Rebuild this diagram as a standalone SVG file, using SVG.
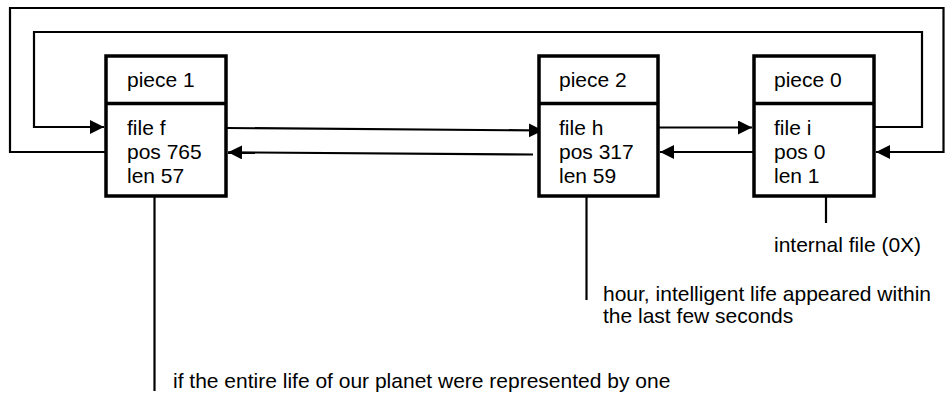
<svg xmlns="http://www.w3.org/2000/svg" width="948" height="403" viewBox="0 0 948 403">
  <style>
    .box { fill: #fff; stroke: #000; stroke-width: 3.5; }
    .div { stroke: #000; stroke-width: 3.5; }
    .t { font-family: "Liberation Sans", Arial, sans-serif; font-size: 21px; fill: #000; }
    .c { fill: none; stroke: #000; stroke-width: 2.2; }
    .a { fill: none; stroke: #000; stroke-width: 2.2; marker-end: url(#ah); }
  </style>
  <defs>
    <marker id="ah" markerUnits="userSpaceOnUse" markerWidth="15" markerHeight="15" refX="14" refY="7" orient="auto">
      <path d="M0,0 L14,7 L0,14 z" fill="#000"/>
    </marker>
  </defs>
  <rect width="948" height="403" fill="#fff"/>

  <g id="connectors">
    <!-- outer loop: piece1 -> piece0 -->
    <polyline class="a" points="106,152 10,152 10,8 943.5,8 943.5,152 876,152"/>
    <!-- inner loop: piece0 -> piece1 -->
    <polyline class="a" points="874,127 922,127 922,32 34,32 34,127 104,127"/>
    <!-- piece1 -> piece2 -->
    <line class="a" x1="227" y1="128" x2="543" y2="130.5"/>
    <!-- piece2 -> piece1 -->
    <line class="a" x1="533" y1="154.5" x2="228" y2="152.3"/>
    <!-- piece2 -> piece0 -->
    <line class="a" x1="659" y1="127.5" x2="752" y2="127.5"/>
    <!-- piece0 -> piece2 -->
    <line class="a" x1="754" y1="152" x2="660" y2="152"/>
    <!-- annotation leaders -->
    <line class="c" x1="154.5" y1="197" x2="154.5" y2="391"/>
    <line class="c" x1="586.5" y1="197" x2="586.5" y2="300"/>
    <line class="c" x1="826" y1="197" x2="826" y2="223"/>
  </g>

  <g id="piece1">
    <rect class="box" x="106" y="56" width="120" height="140"/>
    <line class="div" x1="106" y1="103.5" x2="226" y2="103.5"/>
    <text class="t" x="127" y="87">piece 1</text>
    <text class="t" x="127" y="135">file f</text>
    <text class="t" x="127" y="159">pos 765</text>
    <text class="t" x="127" y="183">len 57</text>
  </g>

  <g id="piece2">
    <rect class="box" x="539" y="56" width="119" height="140"/>
    <line class="div" x1="539" y1="103.5" x2="658" y2="103.5"/>
    <text class="t" x="559" y="87">piece 2</text>
    <text class="t" x="559" y="135">file h</text>
    <text class="t" x="559" y="159">pos 317</text>
    <text class="t" x="559" y="183">len 59</text>
  </g>

  <g id="piece0">
    <rect class="box" x="754" y="56" width="120" height="140"/>
    <line class="div" x1="754" y1="103.5" x2="874" y2="103.5"/>
    <text class="t" x="774" y="87">piece 0</text>
    <text class="t" x="774" y="135">file i</text>
    <text class="t" x="774" y="159">pos 0</text>
    <text class="t" x="774" y="183">len 1</text>
  </g>

  <g id="note-internal">
    <text class="t" x="774" y="252">internal file (0X)</text>
  </g>

  <g id="note-hour">
    <text class="t" x="603" y="301">hour, intelligent life appeared within</text>
    <text class="t" x="603" y="323">the last few seconds</text>
  </g>

  <g id="note-planet">
    <text class="t" x="173" y="388">if the entire life of our planet were represented by one</text>
  </g>
</svg>
